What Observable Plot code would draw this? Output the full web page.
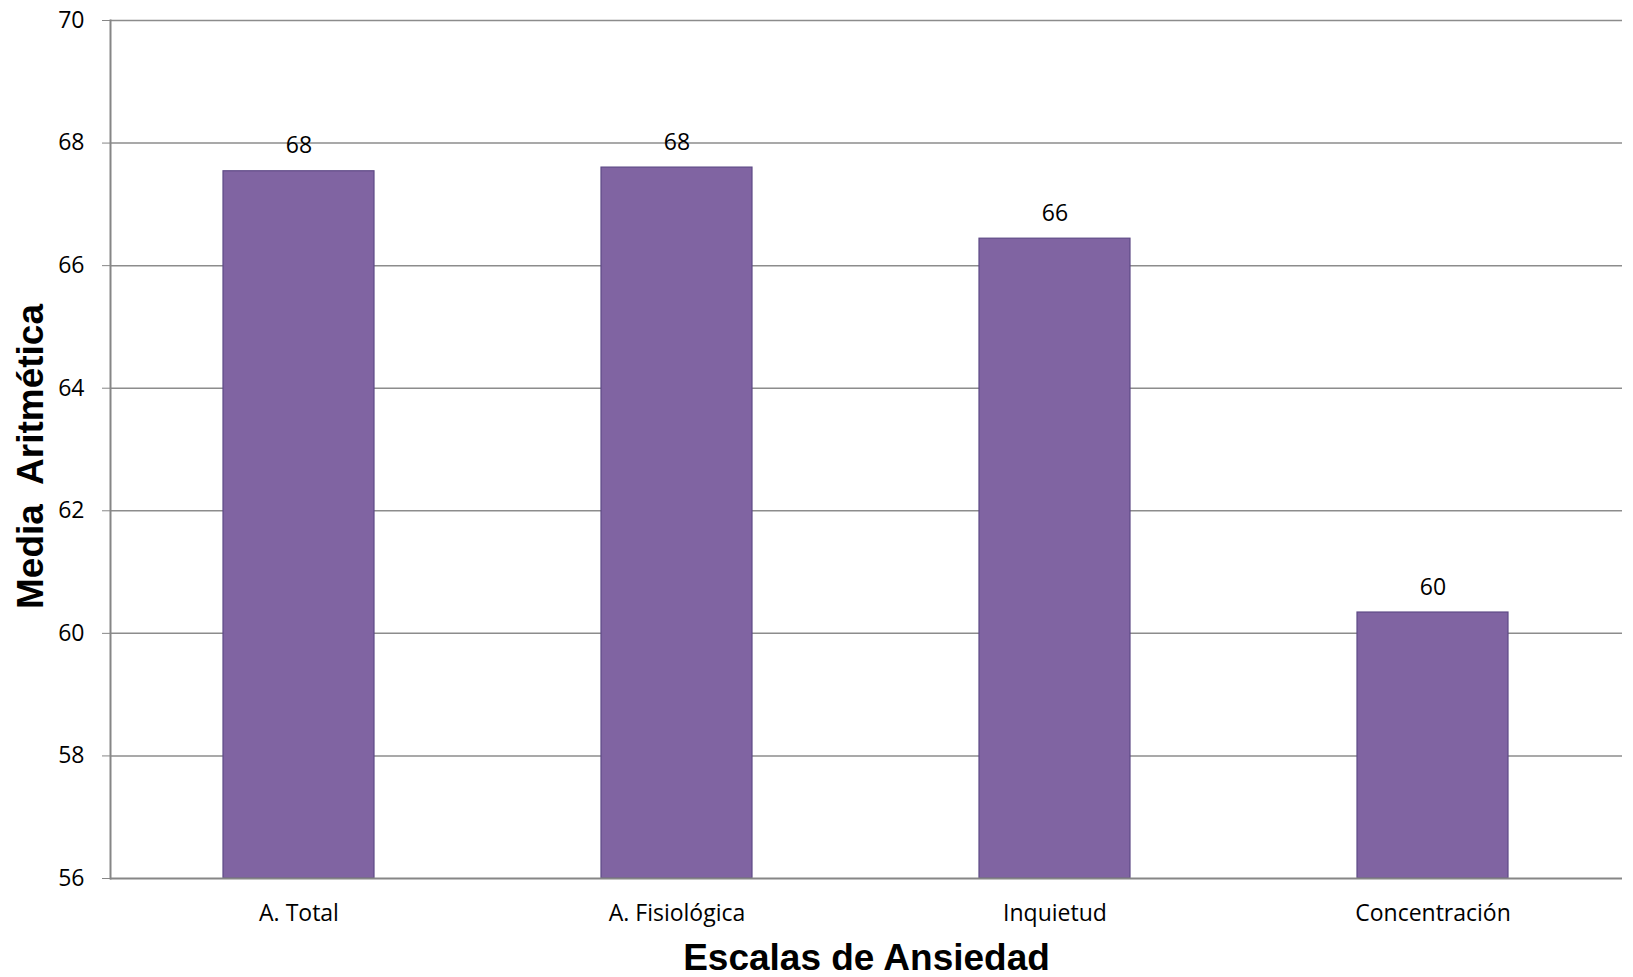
<!DOCTYPE html>
<html><head><meta charset="utf-8">
<script src="https://cdn.jsdelivr.net/npm/d3@7"></script>
<script src="https://cdn.jsdelivr.net/npm/@observablehq/plot@0.6"></script>
<style>body{margin:0;background:#fff} svg{display:block}</style>
</head><body><div id="chart"></div>
<script>
const categories = ["A. Total", "A. Fisiológica", "Inquietud", "Concentración"];
const values = [67.54, 67.60, 66.44, 60.34];
const yTicks = [56, 58, 60, 62, 64, 66, 68, 70];
const xTitle = "Escalas de Ansiedad";
const yTitle = "Media\u00a0 Aritmética";

const data = categories.map((c, i) => ({cat: c, value: values[i]}));
const yMin = yTicks[0], yMax = yTicks[yTicks.length - 1];

const chart = Plot.plot({
  width: 1633, height: 977,
  marginLeft: 110, marginRight: 11, marginTop: 20, marginBottom: 99,
  style: {fontFamily: "'Open Sans', sans-serif", fontSize: "23px", color: "#000", background: "#fff"},
  x: {domain: categories, paddingInner: 0.6, paddingOuter: 0.3, label: null},
  y: {domain: [yMin, yMax], label: null},
  marks: [
    Plot.ruleY(yTicks.slice(1), {stroke: "#8c8c8c", strokeWidth: 1.5}),
    Plot.barY(data, {x: "cat", y1: yMin, y2: "value", fill: "#8064A2", stroke: "#5E4A86", strokeWidth: 1.2}),
    Plot.ruleY([yMin], {stroke: "#868686", strokeWidth: 2}),
    Plot.frame({anchor: "left", stroke: "#868686", strokeWidth: 2}),
    Plot.axisY({ticks: yTicks, tickSize: 8, tickPadding: 18, tickFormat: d3.format("d"), stroke: "#868686", fill: "#000", label: null, fontSize: 23}),
    Plot.axisX({tickSize: 0, tickPadding: 26, label: null, fill: "#000", fontSize: 23}),
    Plot.text(data, {x: "cat", y: "value", text: d => d3.format(".0f")(d.value), lineAnchor: "bottom", dy: -18, fontSize: 23, fill: "#000"}),
    Plot.text([xTitle], {text: d => d, frameAnchor: "bottom", textAnchor: "middle", dy: 80, lineAnchor: "middle", fontSize: 37, fontWeight: "bold", fontFamily: "'Liberation Sans', Arial, sans-serif", fill: "#000"}),
    Plot.text([yTitle], {text: d => d, frameAnchor: "left", textAnchor: "middle", dx: -79, dy: 7, rotate: -90, lineAnchor: "middle", fontSize: 37, fontWeight: "bold", fontFamily: "'Liberation Sans', Arial, sans-serif", fill: "#000"})
  ]
});
document.getElementById("chart").appendChild(chart);
</script>
</body></html>
